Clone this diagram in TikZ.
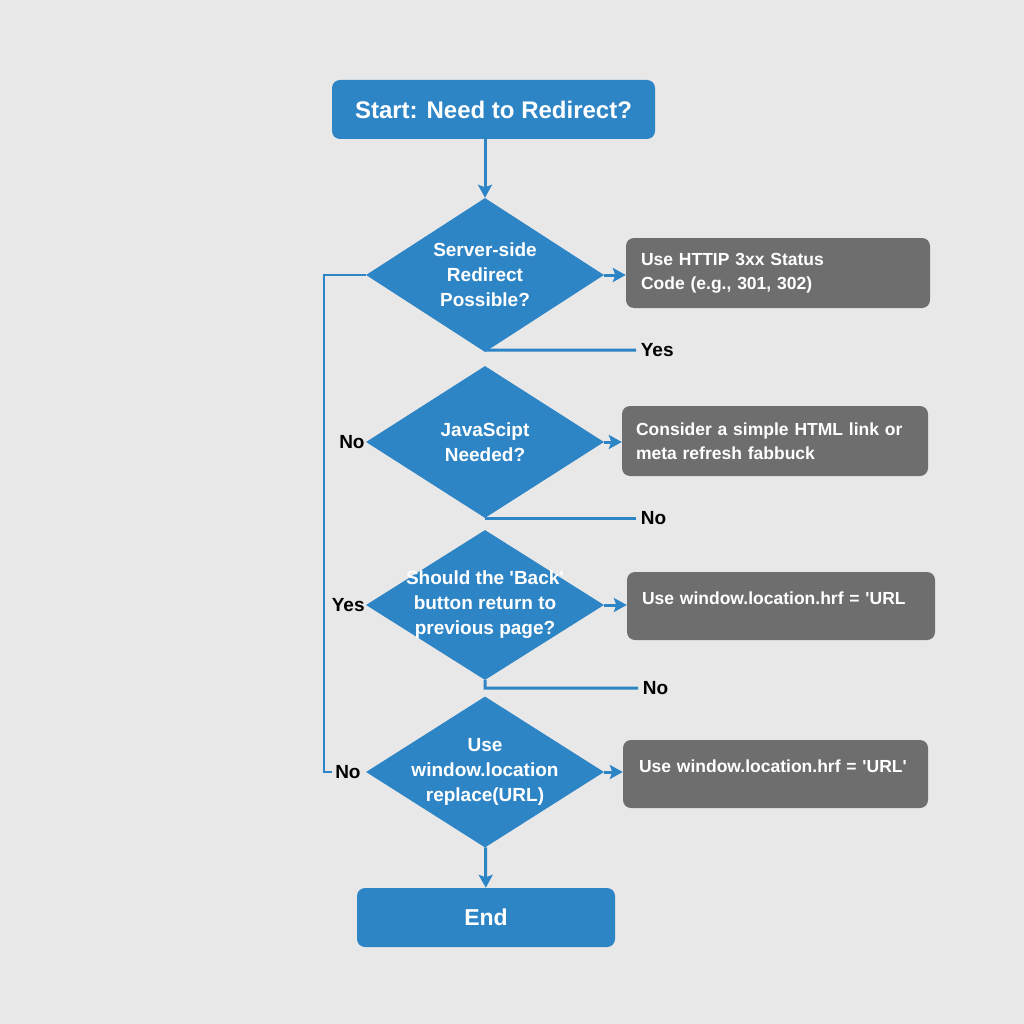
\documentclass[tikz,border=0pt]{standalone}
\usepackage{fontspec}
\setmainfont{Liberation Sans}
\usetikzlibrary{shapes.geometric,arrows.meta}
\definecolor{flowblue}{HTML}{2E85C6}
\definecolor{flowgray}{HTML}{6E6E6E}
\definecolor{flowbg}{HTML}{E8E8E8}
\tikzset{
  term/.style={fill=flowblue,rounded corners=8pt,text=white,font=\bfseries\fontsize{24}{28}\selectfont},
  decide/.style={diamond,fill=flowblue,inner sep=0pt},
  dtext/.style={text=white,align=center,font=\bfseries\fontsize{19}{25}\selectfont},
  action/.style={fill=flowgray,rounded corners=8pt,text=white,align=left,inner xsep=15pt,
    font=\bfseries\fontsize{17.5}{24}\selectfont},
  lbl/.style={font=\bfseries\fontsize{19}{23}\selectfont},
  flow/.style={draw=flowblue,line width=3pt},
  arr/.style={flow,-{Stealth[length=13pt,width=14pt,inset=2.5pt]}}
}
\begin{document}
\begin{tikzpicture}[x=1pt,y=-1pt]
\fill[flowbg] (0,0) rectangle (1024,1024);
\useasboundingbox (0,0) rectangle (1024,1024);
% start and end
\node[term,minimum width=323pt,minimum height=59pt] (start) at (493.5,109.5) {Start: Need to Redirect?};
\node[term,minimum width=258pt,minimum height=59pt,font=\bfseries\fontsize{23}{27}\selectfont] (stop) at (486,917.5) {End};
% decisions
\node[decide,minimum width=238pt,minimum height=154pt,label={[dtext]center:{Server-side\\Redirect\\Possible?}}] (srv) at (485,275) {};
\node[decide,minimum width=238pt,minimum height=152pt,label={[dtext]center:{JavaScipt\\Needed?}}] (js) at (485,442) {};
\node[decide,minimum width=238pt,minimum height=150pt,label={[dtext]center:{Should the \textquotesingle Back\textquotesingle\\button return to\\previous page?}}] (back) at (485,605) {};
\node[decide,minimum width=238pt,minimum height=151pt,label={[dtext]center:{Use\\window.location\\replace(URL)}}] (repl) at (485,772) {};
% actions
\node[action,text width=274pt,minimum height=70pt] (http) at (778,273) {Use HTTIP 3xx Status\\Code (e.g., 301, 302)};
\node[action,text width=278pt,inner xsep=14pt,minimum height=70pt] (link) at (775,441) {Consider a simple HTML link or\\meta refresh fabbuck};
\node[action,text width=290pt,inner xsep=9pt,minimum height=68pt,text depth=16pt] (href) at (781,606) {\hspace*{6pt}Use window.location.hrf = \textquotesingle URL};
\node[action,text width=295pt,inner xsep=5pt,minimum height=68pt,text depth=16pt] (hreff) at (775.5,774) {\hspace*{11pt}Use window.location.hrf = \textquotesingle URL\textquotesingle};
% main arrows
\draw[arr] (srv.north |- start.south) -- (srv);
\draw[arr] (repl) -- (stop);
\draw[arr] (srv.east) -- (srv.east -| http.west);
\draw[arr] (js.east) -- (js.east -| link.west);
\draw[arr] (back.east) -- (back.east -| href.west);
\draw[arr] (repl.east) -- (repl.east -| hreff.west);
% branch ends below the decisions
\coordinate (yes1) at (636,350);
\coordinate (no2) at (636,517);
\coordinate (no3) at (638,688);
\draw[flow] (srv.south) ++(0,-2) -- (yes1) node[lbl,anchor=west]{Yes};
\draw[flow] (js.south) -- (js.south -| no2) node[lbl,anchor=west]{No};
\draw[flow] (back.south) -- ++(0,8) -- (no3) node[lbl,anchor=west]{No};
% left loop
\coordinate (loop) at (324,0);
\draw[flow,line width=2.5pt] (srv.west) -- (srv.west -| loop) -- (repl.west -| loop) -- ++(8,0) node[lbl,anchor=west,inner xsep=2pt]{No};
\node[lbl,anchor=east,inner xsep=1pt] (nojs) at (js.west) {No};
\node[lbl,anchor=east,inner xsep=1pt] (yesback) at (back.west) {Yes};
\end{tikzpicture}
\end{document}
